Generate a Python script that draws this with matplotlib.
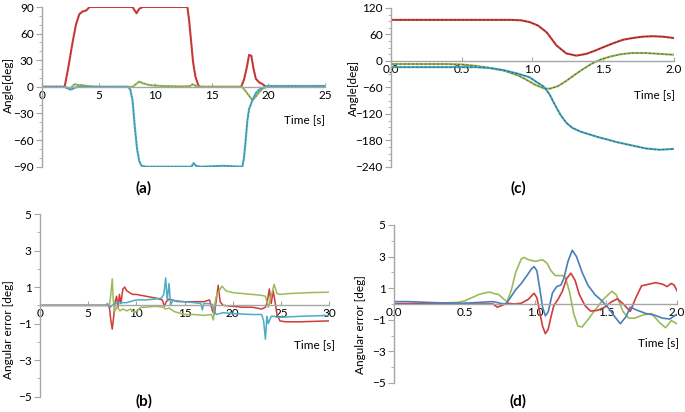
import matplotlib
matplotlib.use("Agg")
import matplotlib.pyplot as plt
from matplotlib.ticker import MultipleLocator, FixedLocator

plt.rcParams['font.family'] = ['Lato', 'DejaVu Sans']

RED = '#d03c3a'
GREEN = '#9bbb59'
AQUA = '#4bacc6'
BLUE = '#4a7ebb'

# ---- (a) angles over the whole run
a_red_t = [0, 2.0, 2.3, 2.7, 3.0, 3.3, 3.6, 3.9, 4.2, 8.0, 8.2, 8.35, 8.6, 8.9, 12.85, 13.0, 13.15,
           13.35, 13.55, 13.8, 14.0, 17.6, 17.85, 18.1, 18.3, 18.5, 18.7, 18.9, 19.2, 19.5, 19.8, 25]
a_red = [0, 0, 20, 50, 70, 82, 85, 86, 90, 90, 86, 83, 88, 90, 90, 75, 55,
         28, 12, 2, 0, 0, 8, 22, 36, 35, 20, 9, 5, 3, 0, 0]
a_green_t = [0, 2.0, 2.3, 2.5, 2.7, 2.9, 3.2, 3.5, 4.0, 5.0, 8.0, 8.3, 8.6, 8.9, 9.5, 10.5, 12.5,
             13.1, 13.3, 13.6, 14, 17.7, 18.0, 18.3, 18.6, 18.9, 19.2, 19.5, 19.9, 25]
a_green = [0, 0, -1, -3, 1, 3, 2, 2, 1, 0, 0, 3, 6, 4, 2, 1, 0.5,
           1, 3, 1, 0, 0, -5, -10, -15, -11, -6, -2, 0, 0]
a_aqua_t = [0, 2.0, 2.3, 2.6, 2.9, 3.2, 7.6, 7.8, 8.0, 8.2, 8.4, 8.6, 8.8, 9.2, 13.2, 13.4, 13.6,
            14.0, 16.0, 17.7, 17.85, 18.0, 18.15, 18.3, 18.6, 18.9, 19.2, 19.6, 20.0, 25]
a_aqua = [0, 0, -2, -3, -1, 0, 0, -3, -15, -45, -70, -84, -89, -90, -90, -86, -89,
          -90, -89, -90, -80, -60, -38, -25, -15, -7, -3, -0.5, 1, 1]

# ---- (c) angles, short manoeuvre
c_red_t = [0, 0.5, 0.85, 0.92, 0.98, 1.04, 1.1, 1.17, 1.24, 1.31, 1.38, 1.44, 1.5, 1.57, 1.64,
           1.71, 1.78, 1.85, 1.92, 2.0]
c_red = [93, 93, 93, 92, 88, 80, 65, 35, 17, 12, 16, 23, 31, 40, 48, 52, 55, 56, 55, 52]
c_green_t = [0, 0.4, 0.5, 0.6, 0.7, 0.8, 0.9, 0.96, 1.02, 1.08, 1.12, 1.18, 1.24, 1.3, 1.36,
             1.42, 1.48, 1.55, 1.62, 1.7, 1.8, 1.9, 2.0]
c_green = [-7, -7, -8, -11, -16, -22, -33, -43, -54, -62, -63, -57, -45, -31, -18,
           -6, 3, 10, 15, 18, 18, 16, 14]
c_aqua_t = [0, 0.6, 0.7, 0.8, 0.9, 0.98, 1.04, 1.08, 1.12, 1.16, 1.2, 1.24, 1.28, 1.34, 1.4,
            1.46, 1.52, 1.6, 1.7, 1.8, 1.9, 2.0]
c_aqua = [-14, -14, -16, -21, -29, -37, -50, -58, -75, -100, -123, -140, -151, -160, -166,
          -172, -177, -184, -191, -198, -201, -199]

# ---- (b) angular error, whole run
b_red_t = [0, 7.0, 7.2, 7.35, 7.5, 7.65, 7.8, 7.95, 8.1, 8.25, 8.4, 8.6, 8.8, 9.0, 9.3, 9.6, 10,
           11, 12, 12.7, 12.9, 13.1, 13.4, 14, 15, 16, 17, 17.6, 17.9, 18.1, 18.3, 18.5, 18.7,
           19, 20, 21, 22, 23, 23.4, 23.6, 23.8, 24.0, 24.2, 24.4, 24.6, 24.9, 25.5, 27, 30]
b_red = [0, 0, -0.1, -0.8, -1.3, -0.6, 0.2, 0.5, -0.1, 0.6, 0.1, 0.9, 1.0, 0.8, 0.7, 0.6, 0.6,
         0.5, 0.4, 0.3, -0.05, 0.2, 0.35, 0.25, 0.2, 0.2, 0.2, 0.3, -0.3, -0.5, 0.3, 1.1, 0.2,
         0.0, -0.05, -0.1, -0.1, -0.2, -0.1, 0.2, 0.9, 0.1, 0.8, 0.2, -0.5, -0.85, -0.9, -0.9, -0.85]
b_green_t = [0, 7.2, 7.35, 7.5, 7.6, 7.75, 8.0, 8.3, 8.6, 9.0, 9.4, 9.8, 10.5, 11, 12, 12.8, 13.0,
             13.4, 14, 15, 16, 17, 17.8, 18.0, 18.15, 18.3, 18.6, 18.9, 19.3, 20, 21, 22, 23,
             23.4, 23.7, 24.0, 24.3, 24.6, 24.9, 26, 28, 30]
b_green = [0, 0, 0.6, 1.45, 0.3, -0.3, -0.1, -0.3, -0.2, -0.3, -0.2, -0.4, -0.1, -0.1, -0.05, -0.1, -0.2,
           -0.15, -0.35, -0.5, -0.5, -0.55, -0.5, -0.8, 0.1, 0.5, 0.8, 1.05, 0.8, 0.7, 0.65, 0.6, 0.55,
           0.5, -0.1, 0.5, 1.15, 0.65, 0.6, 0.65, 0.7, 0.72]
b_aqua_t = [0, 6.8, 7.0, 7.3, 7.6, 8.0, 9.0, 10, 11, 12, 12.6, 12.85, 13.05, 13.2, 13.4, 13.55,
            13.8, 14.2, 15, 16, 16.7, 16.85, 17.0, 17.5, 17.9, 18.1, 18.3, 19, 20, 22, 23, 23.2,
            23.4, 23.55, 23.7, 24.0, 24.3, 24.6, 25, 27, 30]
b_aqua = [0, 0, 0.1, -0.1, 0.05, 0.15, 0.15, 0.3, 0.3, 0.35, 0.4, 0.6, 1.5, 0.3, 1.2, 0.0,
          0.3, 0.2, 0.2, 0.15, 0.1, -0.25, 0.1, 0.1, 0.05, -0.3, -0.5, -0.4, -0.45, -0.5, -0.5, -0.8,
          -1.85, -0.6, -1.0, -0.6, -0.6, -0.65, -0.65, -0.6, -0.55]

# ---- (d) angular error, short manoeuvre
d_green_t = [0, 0.1, 0.3, 0.45, 0.5, 0.55, 0.6, 0.65, 0.68, 0.71, 0.74, 0.77, 0.8, 0.83, 0.86,
             0.9, 0.92, 0.95, 1.0, 1.05, 1.08, 1.11, 1.14, 1.19, 1.21, 1.24, 1.27, 1.3, 1.33,
             1.37, 1.42, 1.48, 1.54, 1.57, 1.62, 1.66, 1.7, 1.76, 1.82, 1.88, 1.92, 1.96, 2.0]
d_green = [0.0, 0.02, 0.05, 0.1, 0.2, 0.4, 0.6, 0.72, 0.75, 0.65, 0.6, 0.35, 0.15, 0.9, 2.0,
           2.85, 2.95, 2.8, 2.7, 2.8, 2.6, 2.1, 1.8, 1.8, 1.7, 0.8, -0.6, -1.4, -1.45,
           -1.0, -0.4, 0.3, 0.8, 0.6, -0.5, -0.9, -0.9, -0.7, -0.6, -1.2, -1.5, -1.05, -1.25]
d_blue_t = [0, 0.1, 0.3, 0.5, 0.6, 0.7, 0.75, 0.78, 0.8, 0.83, 0.86, 0.9, 0.94, 0.97, 0.99, 1.01,
            1.03, 1.05, 1.07, 1.09, 1.12, 1.15, 1.18, 1.2, 1.23, 1.26, 1.29, 1.33, 1.37, 1.42,
            1.47, 1.52, 1.56, 1.6, 1.64, 1.67, 1.72, 1.78, 1.84, 1.9, 1.95, 2.0]
d_blue = [0.15, 0.15, 0.08, 0.05, 0.1, 0.15, 0.05, 0.0, 0.1, 0.5, 0.9, 1.3, 1.8, 2.2, 2.37, 2.1,
          1.0, -0.2, -0.75, -0.5, 0.7, 1.1, 1.2, 1.6, 2.7, 3.4, 3.0, 2.0, 1.2, 0.6,
          0.2, -0.3, -0.8, -1.25, -0.8, -0.2, -0.4, -0.6, -0.7, -0.9, -0.95, -0.65]
d_red_t = [0, 0.3, 0.6, 0.7, 0.73, 0.76, 0.8, 0.85, 0.9, 0.95, 0.99, 1.01, 1.03, 1.05, 1.07,
           1.09, 1.11, 1.13, 1.16, 1.19, 1.22, 1.25, 1.28, 1.31, 1.35, 1.39, 1.44, 1.49, 1.54,
           1.58, 1.62, 1.67, 1.71, 1.75, 1.8, 1.85, 1.9, 1.93, 1.96, 1.98, 2.0]
d_red = [0.02, 0.02, 0.0, 0.0, -0.2, -0.1, 0.05, 0.0, 0.05, 0.3, 0.68, 0.4, -0.5, -1.4, -1.88,
         -1.6, -0.8, -0.1, 0.3, 0.8, 1.6, 1.95, 1.5, 0.6, -0.1, -0.45, -0.4, -0.2, 0.15,
         0.33, 0.0, -0.47, 0.4, 1.15, 1.25, 1.35, 1.25, 1.1, 1.3, 1.2, 0.85]

AXC = '#a6a6a6'
FS = 8.5
fig = plt.figure(figsize=(6.85, 4.12), dpi=100)


def style(ax, xlim, xmajor, ylim, ymajor, yminor, yticks=None, xfmt=None):
    ax.set_xlim(*xlim)
    ax.set_ylim(*ylim)
    for s in ['top', 'right']:
        ax.spines[s].set_visible(False)
    ax.spines['bottom'].set_position(('data', 0))
    ax.spines['bottom'].set_color(AXC)
    ax.spines['left'].set_color(AXC)
    ax.spines['bottom'].set_linewidth(1.0)
    ax.spines['left'].set_linewidth(1.0)
    ax.xaxis.set_major_locator(MultipleLocator(xmajor))
    if yticks is not None:
        ax.yaxis.set_major_locator(FixedLocator(yticks))
    else:
        ax.yaxis.set_major_locator(MultipleLocator(ymajor))
    ax.yaxis.set_minor_locator(MultipleLocator(yminor))
    ax.tick_params(axis='x', direction='in', length=3, color=AXC, labelsize=FS, pad=2)
    ax.tick_params(axis='y', which='major', direction='out', length=4, color=AXC, labelsize=FS, pad=2)
    ax.tick_params(axis='y', which='minor', direction='out', length=2, color=AXC)
    if xfmt:
        ax.xaxis.set_major_formatter(xfmt)
    ax.patch.set_alpha(0)


# (a)
ax = fig.add_axes([0.0613, 0.5954, 0.413, 0.3876])
style(ax, (0, 25), 5, (-90, 90), 30, 10)
for t, v, c in [(a_red_t, a_red, RED), (a_green_t, a_green, GREEN), (a_aqua_t, a_aqua, AQUA)]:
    ax.plot(t, v, color=c, lw=1.5)
    ax.plot(t, v, color='#333333', lw=0.5, ls=(0, (2, 3)), alpha=0.5)

# (c)
ax = fig.add_axes([0.5708, 0.5947, 0.413, 0.386])
style(ax, (0, 2), 0.5, (-240, 120), 60, 15, xfmt='{x:.1f}')
for t, v, c in [(c_red_t, c_red, RED), (c_green_t, c_green, GREEN), (c_aqua_t, c_aqua, AQUA)]:
    ax.plot(t, v, color=c, lw=1.5)
    ax.plot(t, v, color='#222222', lw=0.6, ls=(0, (3, 2)), alpha=0.6)

# (b)
ax = fig.add_axes([0.0584, 0.0371, 0.4219, 0.4434])
style(ax, (0, 30), 5, (-5, 5), 2, 1, yticks=[-5, -3, -1, 1, 3, 5])
ax.plot(b_red_t, b_red, color=RED, lw=1.1)
ax.plot(b_green_t, b_green, color=GREEN, lw=1.1)
ax.plot(b_aqua_t, b_aqua, color=AQUA, lw=1.1)

# (d)
ax = fig.add_axes([0.5752, 0.0704, 0.413, 0.3835])
style(ax, (0, 2), 0.5, (-5, 5), 2, 1, yticks=[-5, -3, -1, 1, 3, 5], xfmt='{x:.1f}')
ax.plot(d_green_t, d_green, color=GREEN, lw=1.2)
ax.plot(d_red_t, d_red, color=RED, lw=1.2)
ax.plot(d_blue_t, d_blue, color=BLUE, lw=1.2)

# axis titles and panel letters
fig.text(8 / 685, 1 - 85 / 412, 'Angle[deg]', rotation=90, ha='center', va='center', fontsize=FS)
fig.text(353 / 685, 1 - 88 / 412, 'Angle[deg]', rotation=90, ha='center', va='center', fontsize=FS)
fig.text(9 / 685, 1 - 330 / 412, 'Angular error [deg]', rotation=90, ha='center', va='center', fontsize=FS)
fig.text(361 / 685, 1 - 325 / 412, 'Angular error [deg]', rotation=90, ha='center', va='center', fontsize=FS)
for x, y in [(304, 120), (655, 95), (314, 345), (659, 343)]:
    fig.text(x / 685, 1 - y / 412, 'Time [s]', ha='center', va='center', fontsize=FS)
for x, y, s in [(144, 188, '(a)'), (518, 188, '(c)'), (144, 401, '(b)'), (518, 401, '(d)')]:
    fig.text(x / 685, 1 - y / 412, s, ha='center', va='center', fontsize=11, fontweight='bold')

fig.savefig('out.png', dpi=100)
